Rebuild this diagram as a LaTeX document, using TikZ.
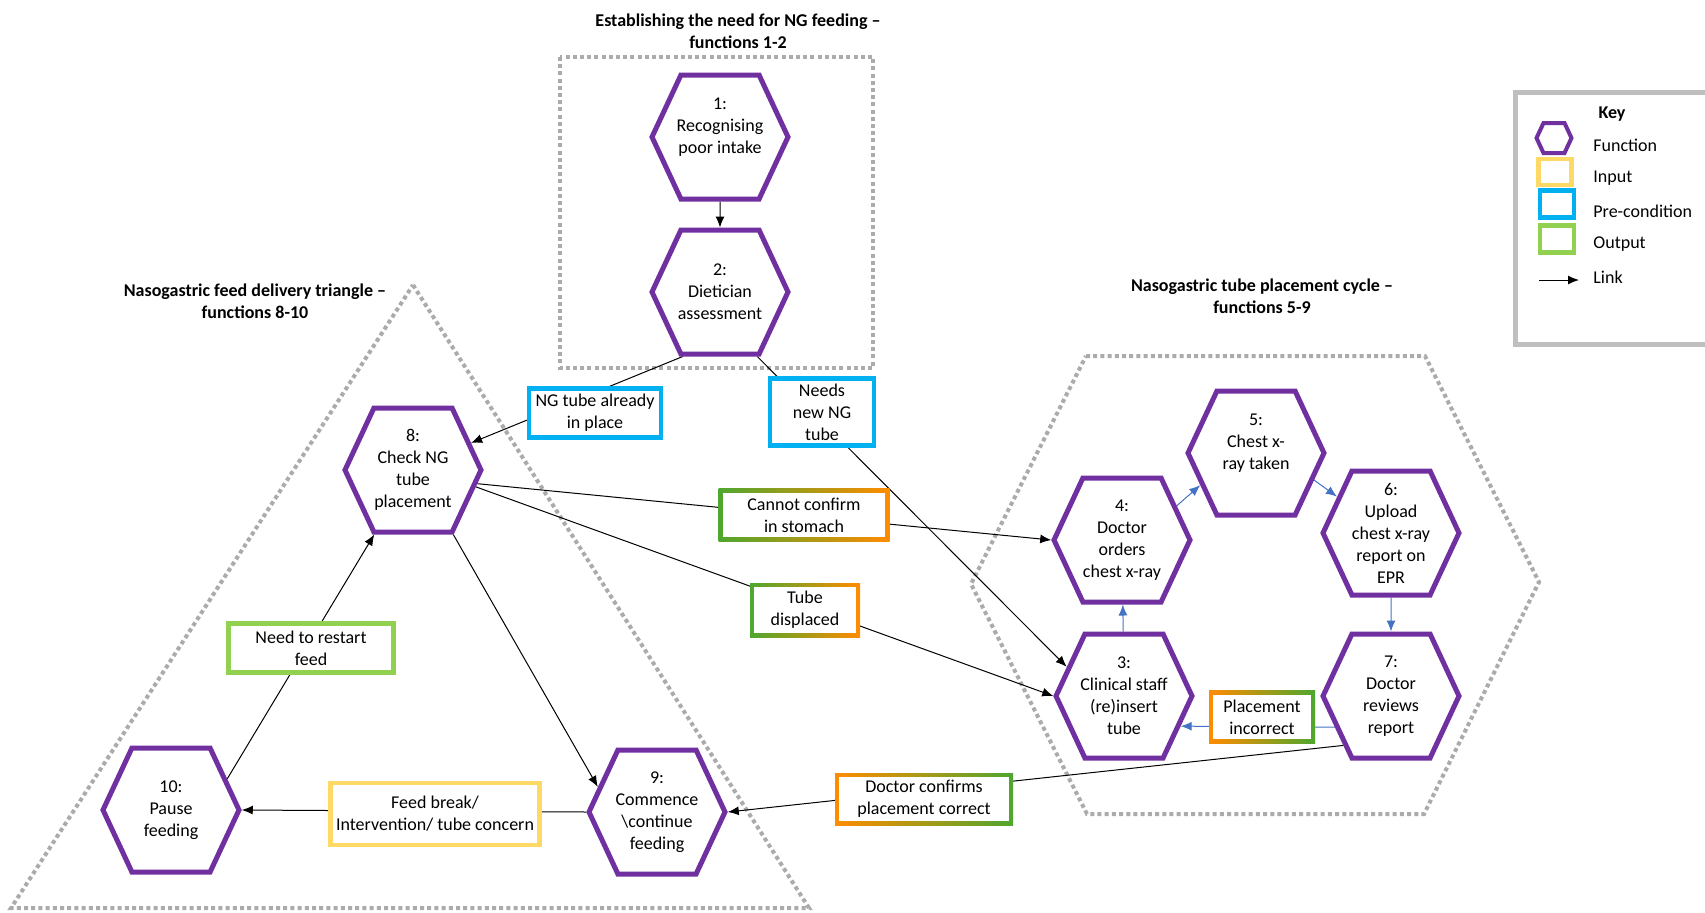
\documentclass[tikz,border=0pt]{standalone}
\usepackage{fontspec}
\setmainfont{Carlito}
\usetikzlibrary{shapes.symbols,arrows.meta,backgrounds}
\definecolor{fpurple}{HTML}{7030A0}
\definecolor{iyellow}{HTML}{FFD966}
\definecolor{pcyan}{HTML}{00B0F0}
\definecolor{olgreen}{HTML}{92D050}
\definecolor{odgreen}{HTML}{4EA72E}
\definecolor{oorange}{HTML}{FF8C00}
\definecolor{zgray}{HTML}{ABABAB}
\definecolor{kgray}{HTML}{BFBFBF}
\definecolor{lblue}{HTML}{4472C4}

\tikzset{
	fn/.style = {shape = signal, signal to = east and west, signal pointer angle = 130, draw = fpurple, line width = 2.5pt, fill = white, minimum width = 68pt, minimum height = 62pt, inner xsep = -8pt, inner ysep = 0pt, align = center, font = \fontsize{9}{11}\selectfont},
	box/.style = {draw, line width = 2.2pt, fill = white, align = center, inner sep = 1pt, font = \fontsize{9}{11}\selectfont},
	gbox/.style 2 args = {box, draw = none, path picture = {
		\shade[left color = #1, right color = #2] (path picture bounding box.south west) rectangle (path picture bounding box.north east);
		\fill[white] ([shift = {(2.2pt,2.2pt)}]path picture bounding box.south west) rectangle ([shift = {(-2.2pt,-2.2pt)}]path picture bounding box.north east);}},
	zone/.style = {draw = zgray, line width = 2pt, dash pattern = on 2pt off 1.6pt},
	link/.style = {-{Latex[length = 5.5pt, width = 4.5pt]}, line width = 0.5pt},
	cyc/.style = {link, draw = lblue},
	title/.style = {font = \fontsize{9}{11}\selectfont\bfseries, align = center},
	keytext/.style = {anchor = west, inner sep = 0pt, font = \fontsize{9}{11}\selectfont}
}

\begin{document}
\begin{tikzpicture}[x = 0.5pt, y = -0.5pt]
	\useasboundingbox (0,0) rectangle (1705,912);
	% titles
	\node[title] (t1) at (738,31) {Establishing the need for NG feeding --\\functions 1-2};
	\node[title] (t2) at (255,301) {Nasogastric feed delivery triangle --\\functions 8-10};
	\node[title] (t3) at (1262,296) {Nasogastric tube placement cycle --\\functions 5-9};
	% functions
	\node[fn] (h1) at (720,137) {1:\\Recognising\\poor intake\\\mbox{}};
	\node[fn] (h2) at (720,292) {2:\\Dietician\\assessment};
	\node[fn] (h8) at (413,470) {8:\\Check NG\\tube\\placement};
	\node[fn] (h10) at (171,810) {10:\\Pause\\feeding};
	\node[fn] (h9) at (657,812) {9:\\Commence\\\textbackslash continue\\feeding};
	\node[fn] (h5) at (1256,453) {5:\\Chest x-\\ray taken\\\mbox{}};
	\node[fn] (h4) at (1122,540) {4:\\Doctor\\orders\\chest x-ray};
	\node[fn] (h6) at (1391,533) {6:\\Upload\\chest x-ray\\report on\\EPR};
	\node[fn] (h3) at (1124,696) {3:\\Clinical staff\\(re)insert\\tube};
	\node[fn] (h7) at (1391,696) {7:\\Doctor\\reviews\\report};
	% inputs, pre-conditions, outputs
	\node[box, draw = pcyan, minimum width = 66pt, minimum height = 24.5pt] (ngin) at (595,413) {NG tube already\\in place};
	\node[box, draw = pcyan, minimum width = 52pt, minimum height = 33.5pt] (ngnew) at (822,412) {Needs\\new NG\\tube};
	\node[gbox = {odgreen}{oorange}, minimum width = 85.5pt, minimum height = 26.5pt] (nocon) at (804,515) {Cannot confirm\\in stomach};
	\node[gbox = {odgreen}{oorange}, minimum width = 55pt, minimum height = 27pt] (displ) at (805,610) {Tube\\displaced};
	\node[box, draw = olgreen, minimum width = 82.5pt, minimum height = 24.5pt] (restart) at (311,648) {Need to restart\\feed};
	\node[box, draw = iyellow, minimum width = 104.5pt, minimum height = 31pt] (fbreak) at (435,814) {Feed break/\\Intervention/ tube concern};
	\node[gbox = {oorange}{odgreen}, minimum width = 89pt, minimum height = 26pt] (okplace) at (924,799) {Doctor confirms\\placement correct};
	\node[gbox = {oorange}{odgreen}, minimum width = 53pt, minimum height = 26.5pt] (badplace) at (1262,717) {Placement\\incorrect};
	% key
	\draw[kgray, line width = 2.5pt] (1515,92) rectangle (1712,344);
	\node[title] (k0) at (1612,114) {Key};
	\node[fn, minimum width = 17.5pt, minimum height = 15pt, inner sep = 0pt, line width = 2pt] (k1) at (1554,138) {};
	\node[box, draw = iyellow, minimum width = 16.5pt, minimum height = 13pt] (k2) at (1555,172) {};
	\node[box, draw = pcyan, minimum width = 17pt, minimum height = 13.5pt] (k3) at (1557,204) {};
	\node[box, draw = olgreen, minimum width = 17pt, minimum height = 13.5pt] (k4) at (1557,239) {};
	\coordinate (k5a) at (1539,280);
	\coordinate (k5b) at (1579,280);
	\draw[link] (k5a) -- (k5b);
	\node[keytext] (l1) at (1593,145) {Function};
	\node[keytext] (l2) at (1593,178) {Input};
	\node[keytext] (l3) at (1593,211) {Pre-condition};
	\node[keytext] (l4) at (1593,244) {Output};
	\node[keytext] (l5) at (1593,277) {Link};
	\begin{scope}[on background layer]
		% zones
		\draw[zone] (560,57) rectangle (873,368);
		\draw[zone] (413,285) -- (809,908) -- (11,908) -- cycle;
		\draw[zone] (1086,356) -- (1425,356) -- (1539,582) -- (1424,814) -- (1087,814) -- (971,584) -- cycle;
		% links
		\draw[link] (h1) -- (h2);
		\draw[link] (h2.-120) -- (h8.25);
		\draw[link] (h2.-60) -- (h3.153);
		\draw[link] (h8.-12) -- (h4.west);
		\draw[link] (h8.-15) -- (h3.west);
		\draw[link] (h8.-58) -- (h9.157);
		\draw[link] (h10.29) -- (h8.-121);
		\draw[link] (h9.west) -- (h10.east);
		\draw[link] (h7.-134) -- (h9.east);
		% placement cycle
		\draw[cyc] (h3) -- (h4);
		\draw[cyc] (h4.32) -- (h5.-150);
		\draw[cyc] (h5.-25) -- (h6.146);
		\draw[cyc] (h6) -- (h7);
		\draw[cyc] (h7.-151) -- (h3.-28);
	\end{scope}
\end{tikzpicture}
\end{document}
